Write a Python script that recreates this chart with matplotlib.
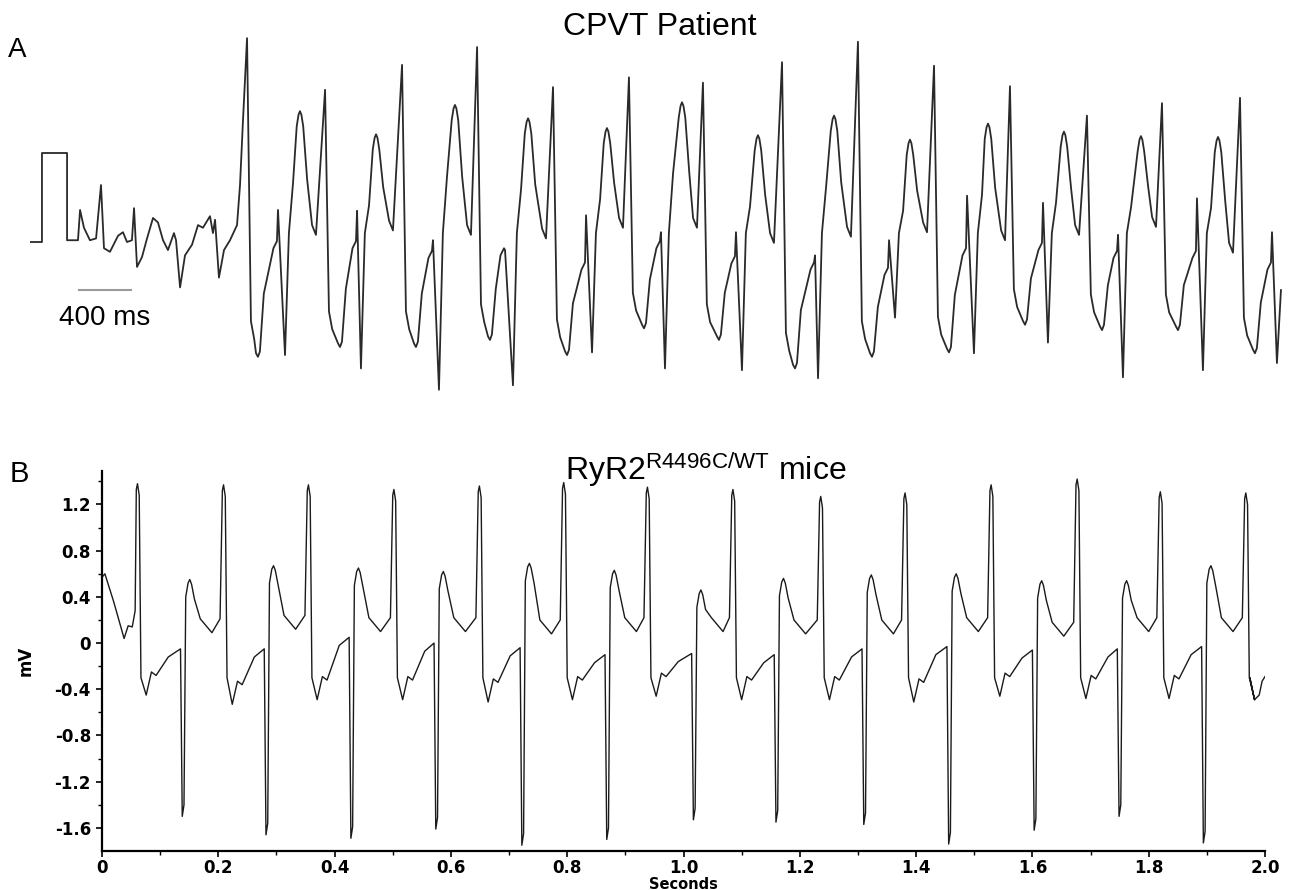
import numpy as np
import matplotlib
matplotlib.use("Agg")
import matplotlib.pyplot as plt

plt.rcParams['axes.unicode_minus'] = False
plt.rcParams['mathtext.default'] = 'regular'

# %% panel A : CPVT patient ECG (time in ms, amplitude in mV, 1 mV calibration pulse)

# calibration pulse and irregular beats before the run of VT
pre_t = [0, 92, 92, 285, 285, 369, 385, 415, 461, 508, 546, 569, 615, 677, 715, 746,
         784, 800, 823, 861, 900, 946, 984, 1023, 1061, 1107, 1123, 1154, 1192, 1246,
         1292, 1330, 1384, 1407, 1423, 1453, 1492, 1538, 1592, 1615, 1638]
pre_v = [0, 0, 1.0, 1.0, 0.02, 0.02, 0.36, 0.16, 0.02, 0.04, 0.64, -0.07, -0.11, 0.07, 0.11, 0.0,
         0.02, 0.38, -0.28, -0.17, 0.04, 0.27, 0.22, 0.02, -0.09, 0.10, 0.02, -0.51, -0.15, -0.03,
         0.19, 0.16, 0.29, 0.10, 0.25, -0.40, -0.09, 0.02, 0.19, 0.64, 1.37]

# bidirectional VT, one entry per cycle
spike_t = [1669, 2269, 2861, 3438, 4022, 4606, 5175, 5783, 6367, 6952, 7536, 8128, 8705, 9305]
spike_v = [2.29, 1.71, 1.99, 2.19, 1.74, 1.85, 1.79, 2.02, 2.25, 1.98, 1.75, 1.42, 1.56, 1.62]
trough_t = [1753, 2384, 2968, 3537, 4130, 4722, 5298, 5883, 6475, 7067, 7652, 8244, 8828, 9420]
trough_v = [-1.29, -1.18, -1.18, -1.10, -1.27, -0.97, -1.10, -1.42, -1.29, -1.24, -0.93, -0.99, -0.99, -1.25]
shoulder_v = [-0.07, -0.07, -0.18, -0.15, -0.31, -0.07, -0.24, -0.31, -0.37, -0.15, -0.09, -0.18, -0.18, -0.31]
notch_t = [1907, 2515, 3099, 3653, 4276, 4852, 5429, 6037, 6606, 7206, 7790, 8367, 8974, 9551]
notch_v = [0.36, 0.35, 0.02, -0.09, 0.30, 0.11, 0.11, -0.15, 0.02, 0.52, 0.44, 0.08, 0.49, 0.11]
neg_t = [1961, 2545, 3145, 3714, 4322, 4883, 5475, 6060, 6652, 7259, 7828, 8405, 9020, 9589]
neg_v = [-1.27, -1.42, -1.66, -1.61, -1.24, -1.42, -1.44, -1.53, -0.85, -1.25, -1.13, -1.52, -1.44, -1.36]
hump_t = [2076, 2661, 3268, 3830, 4437, 5014, 5598, 6183, 6767, 7367, 7951, 8543, 9136]
hump_v = [1.47, 1.21, 1.54, 1.39, 1.28, 1.57, 1.20, 1.42, 1.15, 1.33, 1.24, 1.19, 1.18]
tmin_t = [2199, 2791, 3391, 3968, 4560, 5129, 5721, 6313, 6898, 7498, 8067, 8659, 9251]
tmin_v = [0.08, 0.13, 0.08, 0.04, 0.16, 0.16, -0.01, 0.06, 0.11, 0.02, 0.08, 0.17, -0.12]
end_a = (9620, -0.54)

# %% panel B : RyR2 R4496C/WT mouse ECG (seconds, mV)

start_t = [0.000, 0.005, 0.020, 0.038, 0.045, 0.052, 0.057]
start_v = [0.57, 0.60, 0.36, 0.04, 0.15, 0.14, 0.28]
r_time = [0.062, 0.210, 0.356, 0.503, 0.650, 0.795, 0.939, 1.086, 1.237, 1.382, 1.530, 1.678, 1.821, 1.968]
r_peak = [1.38, 1.37, 1.37, 1.33, 1.36, 1.39, 1.35, 1.33, 1.27, 1.30, 1.37, 1.42, 1.31, 1.30]
s_min = [-0.45, -0.53, -0.49, -0.49, -0.51, -0.49, -0.46, -0.49, -0.49, -0.51, -0.46, -0.48, -0.48, -0.49]
st_end = [-0.05, -0.05, 0.05, 0.00, -0.04, -0.10, -0.09, -0.10, -0.05, -0.03, -0.06, -0.05, -0.03]
n_time = [0.139, 0.283, 0.429, 0.575, 0.723, 0.869, 1.018, 1.160, 1.311, 1.457, 1.604, 1.750, 1.895]
n_peak = [-1.50, -1.66, -1.69, -1.61, -1.75, -1.70, -1.53, -1.55, -1.57, -1.74, -1.62, -1.50, -1.73]
t_peak = [0.55, 0.67, 0.65, 0.62, 0.69, 0.63, 0.46, 0.56, 0.59, 0.60, 0.54, 0.54, 0.67]
t_min = [0.09, 0.12, 0.10, 0.10, 0.08, 0.10, 0.10, 0.08, 0.08, 0.10, 0.06, 0.10, 0.10]
end_t = [1.974, 1.982, 1.990, 1.995, 2.000]
end_v = [-0.30, -0.49, -0.45, -0.33, -0.29]

y_major = np.arange(-1.6, 1.21, 0.4)
x_major = np.arange(0, 2.01, 0.2)


def build_trace_a():
    t = list(pre_t)
    v = list(pre_v)
    for k in range(len(spike_t)):
        t += [spike_t[k], spike_t[k] + 30, spike_t[k] + 55, trough_t[k] - 15, trough_t[k],
              trough_t[k] + 15]
        v += [spike_v[k], trough_v[k] + 0.4, trough_v[k] + 0.2, trough_v[k] + 0.04, trough_v[k],
              trough_v[k] + 0.06]
        t += [trough_t[k] + 45, notch_t[k] - 35, notch_t[k] - 8, notch_t[k], neg_t[k]]
        v += [(trough_v[k] + shoulder_v[k]) / 2 + 0.1, shoulder_v[k], shoulder_v[k] + 0.08,
              notch_v[k], neg_v[k]]
        if k < len(hump_t):
            t += [neg_t[k] + 30, neg_t[k] + 62, hump_t[k] - 25, hump_t[k] - 11, hump_t[k],
                  hump_t[k] + 11, hump_t[k] + 25, hump_t[k] + 55, tmin_t[k] - 30, tmin_t[k]]
            v += [0.1, hump_v[k] - 0.8, hump_v[k] - 0.17, hump_v[k] - 0.04, hump_v[k],
                  hump_v[k] - 0.04, hump_v[k] - 0.17, tmin_v[k] + 0.45 * (hump_v[k] - tmin_v[k]),
                  tmin_v[k] + 0.11, tmin_v[k]]
    t.append(end_a[0])
    v.append(end_a[1])
    return np.array(t), np.array(v)


def build_trace_b():
    t = list(start_t)
    v = list(start_v)
    for k in range(len(r_time)):
        r = r_time[k]
        t += [r - 0.003, r - 0.001, r + 0.002, r + 0.005, r + 0.014]
        v += [r_peak[k] - 0.05, r_peak[k], r_peak[k] - 0.1, -0.3, s_min[k]]
        if k >= len(n_time):
            break
        n = n_time[k]
        t += [r + 0.023, r + 0.031, r + 0.052, n - 0.004, n - 0.001, n + 0.002,
              n + 0.005, n + 0.009, n + 0.012, n + 0.015, n + 0.020, n + 0.030, n + 0.050,
              r_time[k + 1] - 0.007]
        v += [s_min[k] + 0.2, s_min[k] + 0.17, st_end[k] - 0.07, st_end[k], n_peak[k], n_peak[k] + 0.1,
              t_peak[k] - 0.15, t_peak[k] - 0.03, t_peak[k], t_peak[k] - 0.04, t_peak[k] - 0.17,
              t_min[k] + 0.12, t_min[k], t_min[k] + 0.12]
    t += end_t
    v += end_v
    return np.array(t), np.array(v)


# %% drawing

fig = plt.figure(figsize=(12.91, 8.90), dpi=100)
W, H = 1291, 890

ax_a = fig.add_axes([30 / W, 1 - 395 / H, 1255 / W, 365 / H])
ta, va = build_trace_a()
ax_a.plot(ta, va, color='#2a2a2a', lw=1.3)
ax_a.plot([377, 777], [-0.54, -0.54], color='#9a9a9a', lw=1.5)
ax_a.text(220, -0.93, "400 ms", fontsize=20, family='Liberation Sans', ha='left', va='baseline')
ax_a.set_xlim(0, 9651)
ax_a.set_ylim(-1.719, 2.382)
ax_a.axis('off')

fig.text(8 / W, 1 - 57 / H, "A", fontsize=20, family='Liberation Sans', ha='left', va='baseline')
fig.text(563 / W, 1 - 35 / H, "CPVT Patient", fontsize=23, family='Liberation Sans',
         ha='left', va='baseline')

ax_b = fig.add_axes([102 / W, 1 - 851 / H, 1163 / W, 380 / H])
tb, vb = build_trace_b()
ax_b.plot(tb, vb, color='#1a1a1a', lw=1.0)
ax_b.set_xlim(0, 2.0)
ax_b.set_ylim(-1.80, 1.49)
ax_b.set_xticks(x_major)
ax_b.set_xticklabels([f"{x:.1f}" if x > 0 else "0" for x in x_major])
ax_b.set_xticks(np.arange(0.1, 2.0, 0.2), minor=True)
ax_b.set_yticks(y_major)
ax_b.set_yticklabels([f"{y:.1f}" if abs(y) > 1e-9 else "0" for y in y_major])
ax_b.set_yticks(np.arange(-1.4, 1.5, 0.4), minor=True)
for lbl in ax_b.get_xticklabels() + ax_b.get_yticklabels():
    lbl.set_fontweight('bold')
    lbl.set_fontsize(12)
ax_b.tick_params(axis='both', which='major', length=4, width=1.2)
ax_b.tick_params(axis='x', which='major', pad=2)
ax_b.tick_params(axis='y', which='major', pad=4)
ax_b.tick_params(axis='both', which='minor', length=3, width=1.0)
ax_b.spines['top'].set_visible(False)
ax_b.spines['right'].set_visible(False)
ax_b.spines['left'].set_linewidth(1.6)
ax_b.spines['bottom'].set_linewidth(1.6)
ax_b.set_xlabel("Seconds", fontsize=10.5, fontweight='bold')
ax_b.xaxis.set_label_coords(0.5, -0.068)
ax_b.set_ylabel("mV", fontsize=12, fontweight='bold', labelpad=14)

fig.text(10 / W, 1 - 482 / H, "B", fontsize=21, family='Liberation Sans', ha='left', va='baseline')
fig.text(565 / W, 1 - 480 / H, r"RyR2$^{R4496C/WT}$ mice", fontsize=23, family='Liberation Sans',
         ha='left', va='baseline')

fig.savefig("out.png", dpi=100)
